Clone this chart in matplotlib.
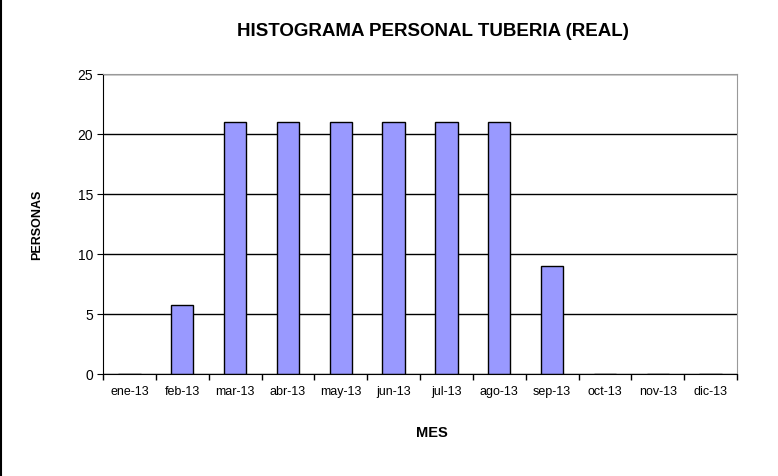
import matplotlib.pyplot as plt
import numpy as np
from matplotlib.lines import Line2D

plt.rcParams['font.family'] = ['Liberation Sans', 'DejaVu Sans']

meses = ['ene-13', 'feb-13', 'mar-13', 'abr-13', 'may-13', 'jun-13',
         'jul-13', 'ago-13', 'sep-13', 'oct-13', 'nov-13', 'dic-13']
personas = [0, 5.75, 21, 21, 21, 21, 21, 21, 9, 0, 0, 0]

fig = plt.figure(figsize=(7.78, 4.77), dpi=100)
ax = fig.add_axes([103/778, 1 - 375/477, 634/778, 300/477])

x = np.arange(len(meses))
ax.bar(x, personas, width=0.42, color='#9999FF', edgecolor='black', linewidth=1, zorder=3)

ax.set_xlim(-0.5, len(meses) - 0.5)
ax.set_ylim(0, 25)
ax.set_yticks([0, 5, 10, 15, 20, 25])
ax.set_xticks(x)
ax.set_xticklabels(meses, fontsize=9)
ax.set_xticks(np.arange(-0.5, len(meses)), minor=True)
ax.tick_params(axis='x', which='major', length=0, pad=8)
ax.tick_params(axis='x', which='minor', length=4, direction='out', width=1)
ax.tick_params(axis='y', length=4, direction='out', labelsize=10, pad=3)
ax.yaxis.grid(True, color='black', linewidth=1, zorder=0)

ax.spines['left'].set_color('black')
ax.spines['bottom'].set_color('black')
ax.spines['bottom'].set_zorder(4)
ax.spines['top'].set_color('#999999')
ax.spines['right'].set_color('#999999')

fig.text(433/778, 1 - 31/477, 'HISTOGRAMA PERSONAL TUBERIA (REAL)',
         ha='center', va='center', fontsize=13.5, fontweight='bold')
fig.text(432/778, 1 - 433/477, 'MES', ha='center', va='center',
         fontsize=10.5, fontweight='bold')
fig.text(37/778, 1 - 225/477, 'PERSONAS', ha='center', va='center',
         rotation=90, fontsize=9, fontweight='bold')

# borde izquierdo del grafico
fig.add_artist(Line2D([1/778, 1/778], [0, 1], color='black', linewidth=1.5))

fig.savefig('out.png', dpi=100)
